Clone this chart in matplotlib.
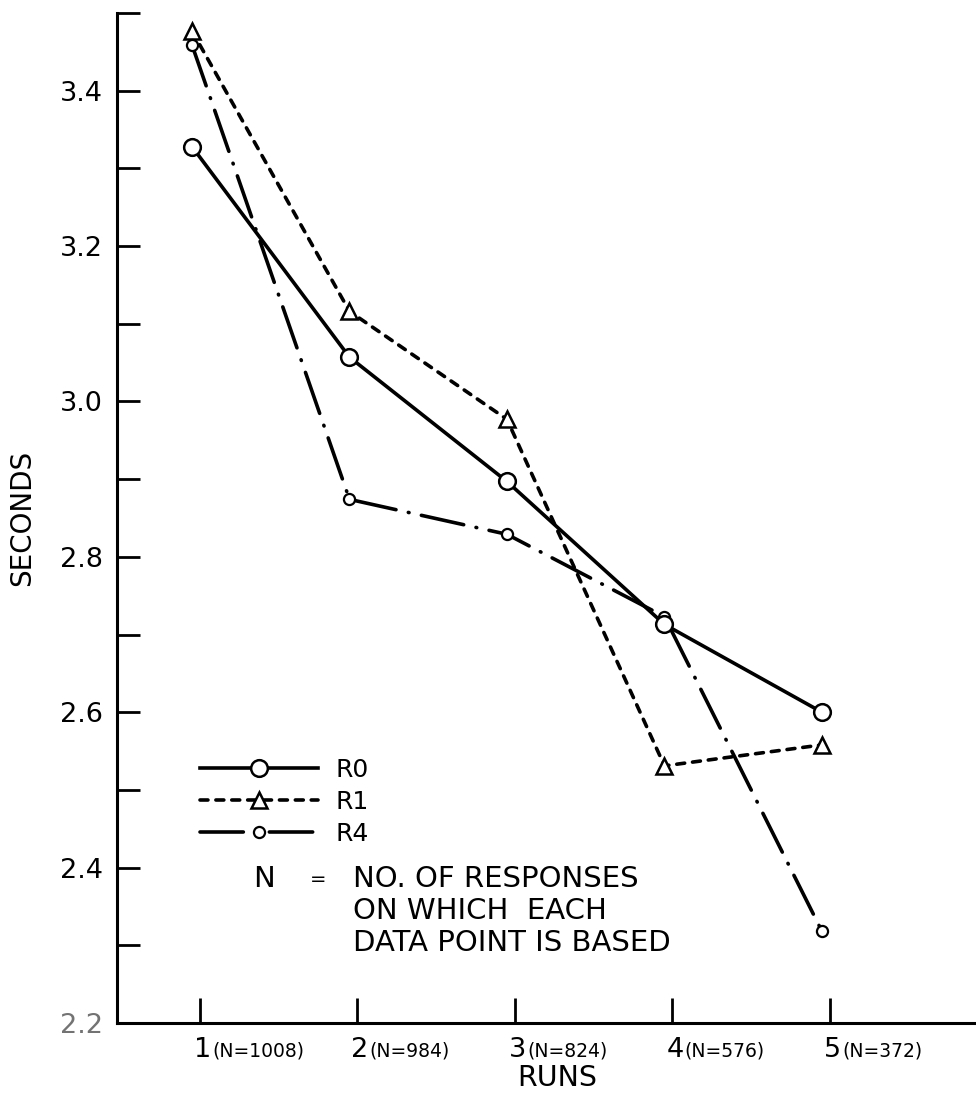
import matplotlib
matplotlib.use("Agg")
import matplotlib.pyplot as plt
from matplotlib import transforms

# values
runs = [1, 2, 3, 4, 5]
n_responses = [1008, 984, 824, 576, 372]
r0 = [3.328, 3.057, 2.897, 2.713, 2.600]
r1 = [3.477, 3.116, 2.977, 2.531, 2.558]
r4 = [3.459, 2.874, 2.829, 2.723, 2.318]

yticks = [2.2, 2.3, 2.4, 2.5, 2.6, 2.7, 2.8, 2.9, 3.0, 3.1, 3.2, 3.3, 3.4, 3.5]
ytick_labels = ["2.2", "", "2.4", "", "2.6", "", "2.8", "", "3.0", "", "3.2", "", "3.4", ""]

note_lines = ["NO. OF RESPONSES", "ON WHICH  EACH", "DATA POINT IS BASED"]

plt.rcParams["font.family"] = "DejaVu Sans"

W, H = 976, 1099
fig = plt.figure(figsize=(W / 100, H / 100), dpi=100)
ax = fig.add_axes([117 / W, 1 - 1023 / H, 1 - 117 / W, (1023 - 13) / H])

lw = 2.6
ax.plot(runs, r0, color="black", lw=lw, ls="-", marker="o", ms=12,
        mfc="white", mec="black", mew=1.8, label="R0", zorder=4)
ax.plot(runs, r1, color="black", lw=lw, ls=(0, (2.2, 2.2)), dash_capstyle="round",
        marker="^", ms=12, mfc="white", mec="black", mew=1.8, label="R1", zorder=3)
ax.plot(runs, r4, color="black", lw=lw, ls=(0, (12, 3.5, 0.2, 3.5)), dash_capstyle="round",
        marker="o", ms=8, mfc="white", mec="black", mew=1.6, label="R4", zorder=3)

ax.set_xlim(0.524, 5.978)
ax.set_ylim(2.2, 3.5)

for s in ["top", "right"]:
    ax.spines[s].set_visible(False)
for s in ["left", "bottom"]:
    ax.spines[s].set_linewidth(2.2)

ax.set_yticks(yticks)
ax.set_yticklabels(ytick_labels)
ax.tick_params(axis="y", direction="in", length=16.5, width=2, labelsize=19.5, pad=10)
ax.get_yticklabels()[0].set_color("0.45")

ax.set_xticks([r + 0.05 for r in runs])
ax.tick_params(axis="x", direction="in", length=18, width=2, labelbottom=False)

# x labels: big run number followed by a small (N=...)
base = transforms.blended_transform_factory(ax.transData, ax.transAxes)
lab_tr = transforms.offset_copy(base, fig=fig, x=2, y=-14, units="dots")
for r, n in zip(runs, n_responses):
    big = ax.text(r, 0, str(r), transform=lab_tr, ha="left", va="top", fontsize=19.5)
    ax.annotate("(N=%d)" % n, xy=(1.05, 0.1), xycoords=big, ha="left", va="bottom",
                fontsize=13.5)

fig.text(557 / W, 1 - 1078 / H, "RUNS", ha="center", va="center", fontsize=20.5)
fig.text(22 / W, 1 - 518 / H, "SECONDS", rotation=90, ha="center", va="center", fontsize=20)

ax.legend(loc="upper left", bbox_to_anchor=(200 / W, 1 - 758 / H),
          bbox_transform=fig.transFigure, frameon=False, fontsize=18,
          handlelength=4.7, handletextpad=0.7, labelspacing=0.32,
          borderpad=0, borderaxespad=0, numpoints=1)

# note about N
fig.text(253 / W, 1 - 879 / H, "N", ha="left", va="center", fontsize=21)
fig.text(310 / W, 1 - 879 / H, "=", ha="left", va="center", fontsize=14)
for i, line in enumerate(note_lines):
    fig.text(353 / W, 1 - (879 + 32 * i) / H, line, ha="left", va="center", fontsize=21)

fig.savefig("out.png", dpi=100)
